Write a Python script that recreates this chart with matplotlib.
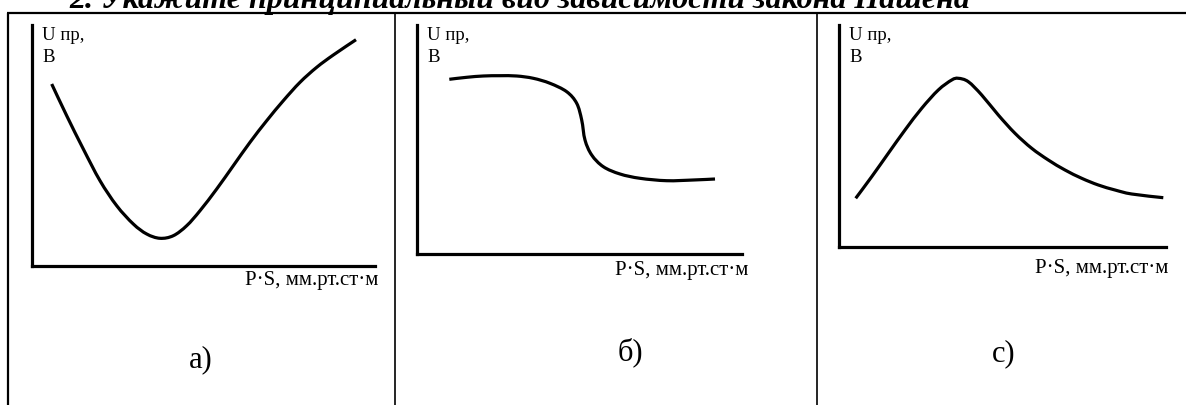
import matplotlib
matplotlib.use("Agg")
import matplotlib.pyplot as plt
from matplotlib.lines import Line2D
from matplotlib.path import Path
from matplotlib.patches import PathPatch

W, H = 1186, 405
DPI = 100

# ---- data (arbitrary units = px from axis origin) ----
a_x = [19.7, 34.7, 51.3, 68.0, 84.7, 101.3, 114.7, 128.0, 141.3, 154.7, 168.0,
       184.7, 201.3, 218.0, 234.7, 251.3, 268.0, 284.7, 301.3, 324.0]
a_y = [182.0, 150.3, 117.0, 85.3, 60.3, 42.0, 32.0, 27.7, 30.3, 40.3, 55.3,
       77.0, 100.3, 123.7, 145.3, 165.3, 183.7, 198.7, 211.0, 226.3]

b_x = [32.3, 49.7, 66.3, 83.0, 99.7, 116.3, 133.0, 149.7, 159.7, 164.7, 168.0,
       174.7, 186.3, 203.0, 223.0, 249.7, 276.3, 298.0]
b_y = [174.7, 176.7, 178.0, 178.3, 178.0, 175.7, 170.7, 162.3, 150.7, 134.0, 114.0,
       99.0, 87.3, 80.0, 75.7, 73.3, 74.0, 75.0]

c_x = [16.7, 32.7, 49.3, 66.0, 82.7, 99.3, 112.7, 119.3, 129.3, 142.7, 159.3,
       176.0, 192.7, 209.3, 226.0, 242.7, 259.3, 276.0, 292.7, 324.3]
c_y = [48.7, 70.3, 93.7, 117.0, 138.7, 157.0, 167.0, 168.7, 165.3, 152.0, 132.0,
       113.7, 98.7, 87.0, 77.0, 68.7, 62.0, 57.0, 53.0, 49.3]

title = "2. Укажите принципиальный вид зависимости закона Пашена"
y_label = "U пр,\nВ"
x_label = "P·S, мм.рт.ст·м"
panel_labels = ["а)", "б)", "с)"]

SERIF = ["Liberation Serif", "DejaVu Serif"]

fig = plt.figure(figsize=(W / DPI, H / DPI), dpi=DPI)
fig.patch.set_facecolor("white")

def px(x, y):
    return x / W, 1 - y / H

def fline(x0, y0, x1, y1, lw):
    X0, Y0 = px(x0, y0)
    X1, Y1 = px(x1, y1)
    fig.add_artist(Line2D([X0, X1], [Y0, Y1], color="black", lw=lw,
                          transform=fig.transFigure, solid_capstyle="butt"))

def smooth_path(xs, ys):
    # Catmull-Rom through the read points, drawn as cubic Bezier segments
    pts = list(zip(xs, ys))
    verts = [pts[0]]
    codes = [Path.MOVETO]
    n = len(pts)
    for i in range(n - 1):
        p0 = pts[i - 1] if i > 0 else pts[i]
        p1 = pts[i]
        p2 = pts[i + 1]
        p3 = pts[i + 2] if i + 2 < n else pts[i + 1]
        c1 = (p1[0] + (p2[0] - p0[0]) / 6, p1[1] + (p2[1] - p0[1]) / 6)
        c2 = (p2[0] - (p3[0] - p1[0]) / 6, p2[1] - (p3[1] - p1[1]) / 6)
        verts += [c1, c2, p2]
        codes += [Path.CURVE4] * 3
    return Path(verts, codes)

# table borders
fline(7, 13, W, 13, 1.6)
fline(8, 13, 8, H, 1.6)
fline(395, 13, 395, H, 1.2)
fline(817, 13, 817, H, 1.2)

# title (clipped at the top of the image, as in the source)
fig.text(*px(520, 8), title, ha="center", va="baseline", fontsize=23,
         family=SERIF, fontweight="bold", fontstyle="italic")

panels = [
    (32, 266, 375, 25, a_x, a_y, (42, 27), 378, 281),
    (417, 254, 742, 25, b_x, b_y, (427, 27), 748, 271),
    (839, 247, 1166, 25, c_x, c_y, (849, 27), 1168, 268),
]

for (ox, oy, xe, yt, xs, ys, lp, xr, xly) in panels:
    l, b = px(ox, oy)
    ax = fig.add_axes([l, b, (xe - ox) / W, (oy - yt) / H])
    ax.set_xlim(0, xe - ox)
    ax.set_ylim(0, oy - yt)
    for s in ("top", "right"):
        ax.spines[s].set_visible(False)
    for s in ("left", "bottom"):
        ax.spines[s].set_linewidth(2.3)
        ax.spines[s].set_capstyle("projecting")
    ax.set_xticks([])
    ax.set_yticks([])
    ax.patch.set_alpha(0)
    ax.add_patch(PathPatch(smooth_path(xs, ys), facecolor="none", edgecolor="black",
                           lw=2.3, capstyle="butt", joinstyle="round", clip_on=False))
    fig.text(*px(lp[0], lp[1]), y_label, ha="left", va="top", fontsize=13.5,
             family=SERIF, linespacing=1.4)
    fig.text(*px(xr, xly), x_label, ha="right", va="center", fontsize=15,
             family=SERIF)

for (cx, cy), t in zip([(201, 360), (630, 352), (1004, 354)], panel_labels):
    fig.text(*px(cx, cy), t, ha="center", va="center", fontsize=22, family=SERIF)

fig.savefig("out.png", dpi=DPI, facecolor="white")
